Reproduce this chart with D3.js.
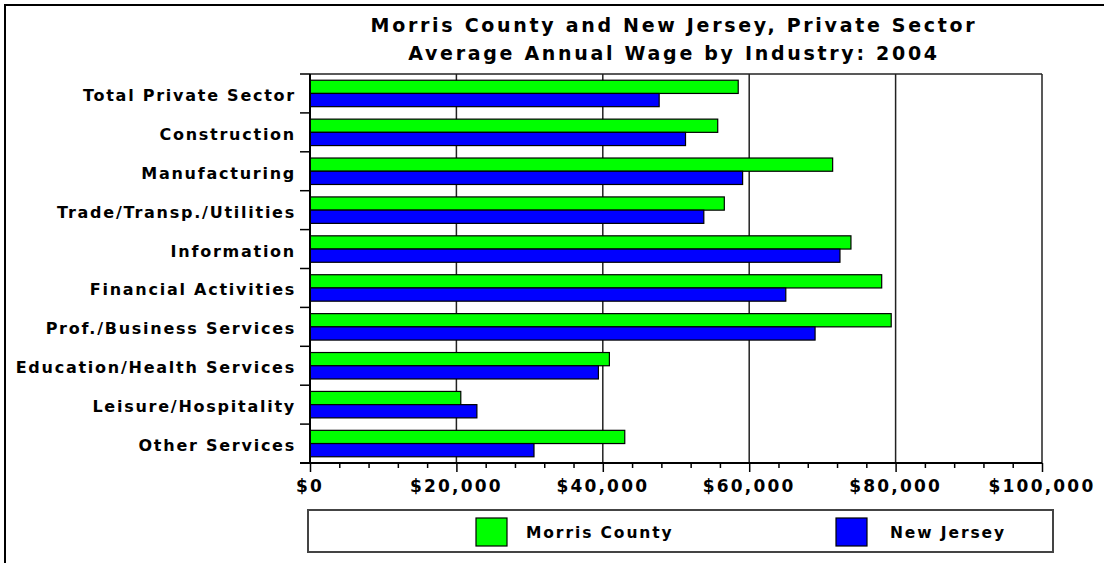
<!DOCTYPE html>
<html><head><meta charset="utf-8">
<script src="https://cdn.jsdelivr.net/npm/d3@7"></script>
<style>
body{margin:0;background:#fff;}
text{font-family:"DejaVu Sans",sans-serif;font-weight:bold;fill:#000;}
</style></head>
<body>
<svg id="c" width="1104" height="563"></svg>
<script>
const titleLines = ["Morris County and New Jersey, Private Sector", "Average Annual Wage by Industry: 2004"];
const categories = ["Total Private Sector","Construction","Manufacturing","Trade/Transp./Utilities","Information","Financial Activities","Prof./Business Services","Education/Health Services","Leisure/Hospitality","Other Services"];
const seriesNames = ["Morris County","New Jersey"];
const morrisCounty = [58500,55700,71400,56600,73900,78100,79400,40900,20600,43000];
const newJersey    = [47700,51300,59100,53800,72400,65000,69000,39400,22800,30600];
const xTicks = [0,20000,40000,60000,80000,100000];
const seriesColors = ["#00ff00","#0000ff"];

const svg = d3.select("#c");
const m = {left:310, right:1042, top:74, bottom:463};

// outer frame
svg.append("rect").attr("x",5).attr("y",5).attr("width",1110).attr("height",570)
  .attr("fill","none").attr("stroke","#000").attr("stroke-width",2);

// titles
svg.selectAll(".title").data(titleLines).enter().append("text")
  .attr("x",674).attr("y",(d,i)=>32+i*28).attr("text-anchor","middle")
  .style("font-size","19px").style("letter-spacing","2.7px").text(d=>d);

const x = d3.scaleLinear().domain([0,100000]).range([m.left,m.right]);
const y = d3.scaleBand().domain(categories).range([m.top,m.bottom]).paddingInner(0.32).paddingOuter(0.16);
const ys = d3.scaleBand().domain(seriesNames).range([0,y.bandwidth()]);

// gridlines
svg.append("g").selectAll("line").data(xTicks.filter(d=>d>0)).enter().append("line")
  .attr("x1",d=>x(d)).attr("x2",d=>x(d)).attr("y1",m.top).attr("y2",m.bottom)
  .attr("stroke","#222").attr("stroke-width",1.5);
svg.append("line").attr("x1",m.left).attr("x2",m.right).attr("y1",m.top).attr("y2",m.top)
  .attr("stroke","#222").attr("stroke-width",1.5);

// bars
const data = categories.map((c,i)=>({cat:c, vals:[morrisCounty[i], newJersey[i]]}));
const g = svg.append("g");
data.forEach(d=>{
  g.selectAll(null).data(d.vals.map((v,j)=>({v, s:seriesNames[j], j}))).enter().append("rect")
    .attr("x",x(0)).attr("y",e=>y(d.cat)+ys(e.s))
    .attr("width",e=>x(e.v)-x(0)).attr("height",ys.bandwidth())
    .attr("fill",e=>seriesColors[e.j]).attr("stroke","#000").attr("stroke-width",1.2);
});

// x axis
const xAxis = d3.axisBottom(x).tickValues(d3.range(0,100001,4000)).tickSize(4).tickFormat("");
const xg = svg.append("g").attr("transform",`translate(0,${m.bottom})`).call(xAxis);
xg.select(".domain").remove();
xg.selectAll(".tick line").attr("stroke","#000").attr("stroke-width",1.5)
  .attr("y2",d=>d%20000===0?9:5);
svg.append("line").attr("x1",300).attr("x2",m.right).attr("y1",m.bottom).attr("y2",m.bottom)
  .attr("stroke","#000").attr("stroke-width",2);
svg.selectAll(".xl").data(xTicks).enter().append("text")
  .attr("x",d=>x(d)).attr("y",492).attr("text-anchor","middle")
  .style("font-size","17px").style("letter-spacing","2.2px")
  .text(d=>"$"+d3.format(",")(d));

// y axis
svg.append("line").attr("x1",m.left).attr("x2",m.left).attr("y1",m.top).attr("y2",m.bottom)
  .attr("stroke","#000").attr("stroke-width",2);
svg.selectAll(".yt").data(categories.concat(["__end"])).enter().append("line")
  .attr("x1",300).attr("x2",m.left)
  .attr("y1",d=>d==="__end"?m.bottom:y(d)-y.step()*0.16)
  .attr("y2",d=>d==="__end"?m.bottom:y(d)-y.step()*0.16)
  .attr("stroke","#000").attr("stroke-width",1.5);
svg.selectAll(".yl").data(categories).enter().append("text")
  .attr("x",296).attr("y",d=>y(d)+y.bandwidth()/2+7.5).attr("text-anchor","end")
  .style("font-size","16px").style("letter-spacing","1.75px").text(d=>d);

// legend
svg.append("rect").attr("x",308).attr("y",510).attr("width",745).attr("height",42)
  .attr("fill","#fff").attr("stroke","#444").attr("stroke-width",2);
const legX = [476, 836], legTX = [526, 890];
seriesNames.forEach((s,i)=>{
  svg.append("rect").attr("x",legX[i]).attr("y",518).attr("width",31).attr("height",28)
    .attr("fill",seriesColors[i]).attr("stroke","#000").attr("stroke-width",1.2);
  svg.append("text").attr("x",legTX[i]).attr("y",538).style("font-size","15.5px")
    .style("letter-spacing","1.9px").text(s);
});
</script>
</body></html>
